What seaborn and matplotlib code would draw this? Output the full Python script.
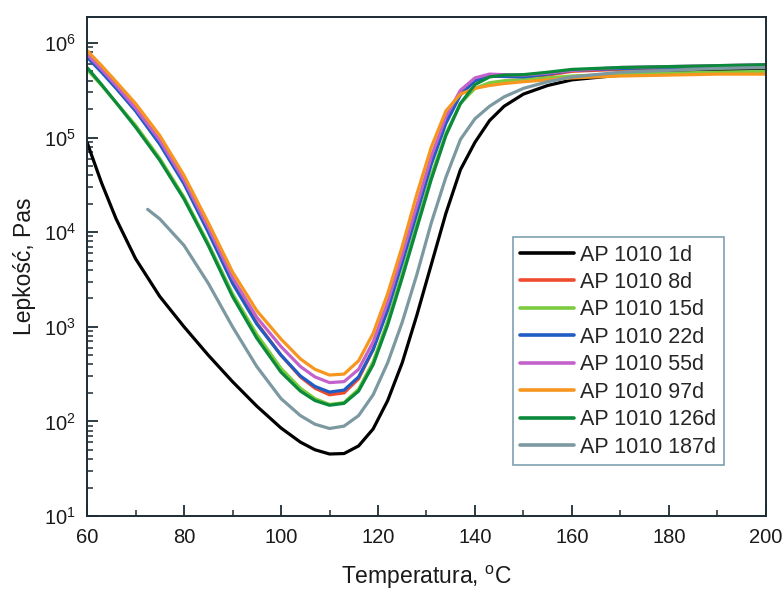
import numpy as np
import pandas as pd
import seaborn as sns
import matplotlib.pyplot as plt
from matplotlib.ticker import LogLocator, MultipleLocator

# Lepkość w funkcji temperatury (odczyt z wykresu), Pa·s

temperatura = [60, 63, 66, 70, 75, 80, 85, 90, 95, 100, 104, 107, 110, 113, 116, 119,
               122, 125, 128, 131, 134, 137, 140, 143, 146, 150, 155, 160, 170, 180, 190, 200]

temperatura_187d = [72.5, 75, 80, 85, 90, 95, 100, 104, 107, 110, 113, 116, 119,
                    122, 125, 128, 131, 134, 137, 140, 143, 146, 150, 155, 160, 170, 180, 190, 200]

lepkosc_1d = [8.91e4, 3.31e4, 1.38e4, 5.25e3, 2.09e3, 1.00e3, 501, 263, 145, 85.1, 60.3, 50.1,
              45.2, 45.7, 55.0, 83.2, 166, 417, 1.32e3, 4.57e3, 1.58e4, 4.57e4, 8.91e4,
              1.51e5, 2.14e5, 2.88e5, 3.55e5, 4.07e5, 4.57e5, 4.90e5, 5.13e5, 5.25e5]

lepkosc_8d = [7.94e5, 5.37e5, 3.55e5, 2.04e5, 9.12e4, 3.39e4, 1.05e4, 3.02e3, 1.10e3, 501,
              295, 224, 191, 200, 282, 575, 1.58e3, 5.25e3, 1.78e4, 6.03e4, 1.58e5, 3.02e5,
              4.07e5, 4.47e5, 4.42e5, 4.37e5, 4.57e5, 5.01e5, 5.25e5, 5.37e5, 5.50e5, 5.62e5]

lepkosc_15d = [5.25e5, 3.55e5, 2.34e5, 1.35e5, 6.03e4, 2.34e4, 7.59e3, 2.24e3, 832, 363,
               224, 174, 151, 158, 219, 427, 1.15e3, 3.63e3, 1.20e4, 3.98e4, 1.10e5, 2.29e5,
               3.31e5, 3.80e5, 3.98e5, 4.07e5, 4.27e5, 4.47e5, 4.68e5, 4.79e5, 4.90e5, 5.01e5]

lepkosc_22d = [7.08e5, 4.90e5, 3.31e5, 1.91e5, 8.51e4, 3.24e4, 1.00e4, 2.88e3, 1.07e3, 501,
               302, 234, 204, 214, 295, 575, 1.51e3, 4.79e3, 1.58e4, 5.25e4, 1.41e5, 2.82e5,
               3.98e5, 4.47e5, 4.42e5, 4.37e5, 4.68e5, 5.13e5, 5.37e5, 5.50e5, 5.62e5, 5.75e5]

lepkosc_55d = [7.59e5, 5.25e5, 3.55e5, 2.04e5, 9.33e4, 3.55e4, 1.12e4, 3.31e3, 1.26e3, 617,
               380, 295, 257, 263, 355, 692, 1.82e3, 5.75e3, 1.91e4, 6.31e4, 1.66e5, 3.16e5,
               4.27e5, 4.68e5, 4.62e5, 4.57e5, 4.79e5, 5.13e5, 5.50e5, 5.62e5, 5.75e5, 5.89e5]

lepkosc_97d = [8.32e5, 5.75e5, 3.89e5, 2.29e5, 1.05e5, 3.98e4, 1.26e4, 3.80e3, 1.48e3, 741,
               457, 355, 309, 316, 437, 851, 2.24e3, 7.08e3, 2.51e4, 7.94e4, 1.91e5, 2.88e5,
               3.31e5, 3.55e5, 3.72e5, 3.89e5, 4.07e5, 4.27e5, 4.47e5, 4.57e5, 4.68e5, 4.68e5]

lepkosc_126d = [5.50e5, 3.63e5, 2.34e5, 1.29e5, 5.75e4, 2.24e4, 7.24e3, 2.09e3, 759, 331,
                209, 166, 148, 155, 209, 398, 1.05e3, 3.31e3, 1.10e4, 3.63e4, 1.05e5, 2.29e5,
                3.63e5, 4.37e5, 4.57e5, 4.62e5, 4.90e5, 5.25e5, 5.50e5, 5.62e5, 5.75e5, 5.89e5]

lepkosc_187d = [1.74e4, 1.38e4, 7.24e3, 2.88e3, 1.00e3, 380, 174, 115, 93.3, 84.1, 89.1, 115,
                191, 417, 1.12e3, 3.55e3, 1.26e4, 3.80e4, 9.55e4, 1.58e5, 2.14e5, 2.69e5,
                3.31e5, 3.89e5, 4.37e5, 4.90e5, 5.13e5, 5.37e5, 5.50e5]

serie = ['AP 1010 1d', 'AP 1010 8d', 'AP 1010 15d', 'AP 1010 22d',
         'AP 1010 55d', 'AP 1010 97d', 'AP 1010 126d', 'AP 1010 187d']

kolory = ['#000000', '#f04a2c', '#7ccb3e', '#1f5cc4',
          '#c462cc', '#f7961f', '#0b8a3c', '#7c98a0']

# ==========================================
# TABELA DŁUGA DLA SEABORNA
# ==========================================

dane = {
    'AP 1010 1d': (temperatura, lepkosc_1d),
    'AP 1010 8d': (temperatura, lepkosc_8d),
    'AP 1010 15d': (temperatura, lepkosc_15d),
    'AP 1010 22d': (temperatura, lepkosc_22d),
    'AP 1010 55d': (temperatura, lepkosc_55d),
    'AP 1010 97d': (temperatura, lepkosc_97d),
    'AP 1010 126d': (temperatura, lepkosc_126d),
    'AP 1010 187d': (temperatura_187d, lepkosc_187d),
}

frames = []
for nazwa in serie:
    t, eta = dane[nazwa]
    frames.append(pd.DataFrame({'T': t, 'eta': eta, 'seria': nazwa}))
df = pd.concat(frames, ignore_index=True)

# ==========================================
# WYKRES
# ==========================================

sns.set_style('ticks')
plt.rcParams['font.family'] = ['Liberation Sans', 'DejaVu Sans']
plt.rcParams['mathtext.fontset'] = 'custom'
plt.rcParams['mathtext.rm'] = 'Liberation Sans'
plt.rcParams['mathtext.it'] = 'Liberation Sans:italic'

fig = plt.figure(figsize=(7.84, 5.97), dpi=100)
ax = fig.add_axes([0.111, 0.1357, 0.866, 0.836])

sns.lineplot(data=df, x='T', y='eta', hue='seria', hue_order=serie,
             palette=dict(zip(serie, kolory)), sort=False, estimator=None,
             linewidth=2.3, ax=ax)

ax.set_yscale('log')
ax.set_xlim(60, 200)
ax.set_ylim(10, 10 ** 6.275)

ax.xaxis.set_major_locator(MultipleLocator(20))
ax.xaxis.set_minor_locator(MultipleLocator(10))
ax.yaxis.set_major_locator(LogLocator(base=10, numticks=10))
ax.yaxis.set_minor_locator(LogLocator(base=10, subs=np.arange(2, 10), numticks=20))

spine_col = '#1c2c34'
for s in ax.spines.values():
    s.set_color(spine_col)
    s.set_linewidth(1.4)
ax.tick_params(which='major', direction='in', length=8, width=1.3, color=spine_col,
               labelsize=14.5, labelcolor='#1a1a1a', top=False, right=False)
ax.tick_params(axis='x', which='major', pad=9)
ax.tick_params(axis='y', which='major', pad=8)
ax.tick_params(which='minor', direction='in', length=4, width=1.1, color=spine_col,
               top=False, right=False)

ax.set_xlabel('Temperatura, $^{\\mathrm{o}}$C', fontsize=16.5, color='#1a1a1a', labelpad=12)
ax.set_ylabel('Lepkość, Pas', fontsize=16.5, color='#1a1a1a', labelpad=6)

leg = ax.legend(loc='upper left', bbox_to_anchor=(0.627, 0.559), fontsize=15.5,
                frameon=True, fancybox=False, edgecolor='#7fa0b0', framealpha=1,
                handlelength=2.5, handletextpad=0.28, labelspacing=0.3,
                borderpad=0.35, borderaxespad=0)
leg.get_frame().set_linewidth(1.2)
for line in leg.get_lines():
    line.set_linewidth(2.6)

fig.savefig('out.png', dpi=100)
